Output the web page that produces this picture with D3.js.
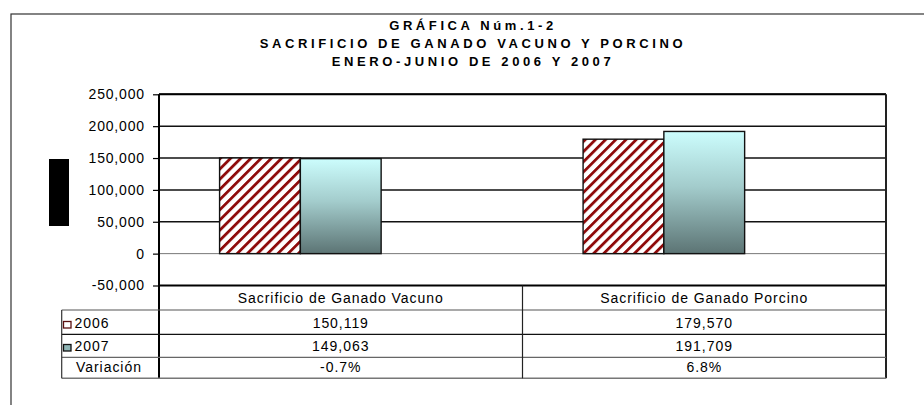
<!DOCTYPE html>
<html>
<head>
<meta charset="utf-8">
<script src="https://cdn.jsdelivr.net/npm/d3@7"></script>
<style>
  html, body { margin: 0; padding: 0; background: #fff; }
  svg { display: block; }
  text { font-family: "Liberation Sans", Arial, sans-serif; }
</style>
</head>
<body>
<svg id="chart" width="924" height="405"></svg>
<script>
// ---- data ----
const titleLines = ["GRÁFICA Núm.1-2", "SACRIFICIO DE GANADO VACUNO Y PORCINO", "ENERO-JUNIO DE 2006 Y 2007"];
const categories = ["Sacrificio de Ganado Vacuno", "Sacrificio de Ganado Porcino"];
const seriesNames = ["2006", "2007", "Variación"];
const values2006 = [150119, 179570];
const values2007 = [149063, 191709];
const variacion = [-0.007, 0.068];
const yTicks = [-50000, 0, 50000, 100000, 150000, 200000, 250000];

// ---- layout ----
const plot = { left: 159, right: 886, top: 94.3, bottom: 285.5 };
const tableRows = [285.5, 310, 334.3, 357.3, 378.3];
const tableLeft = 61.7;

const locale = d3.formatLocale({ decimal: ".", thousands: ",", grouping: [3], currency: ["", ""], minus: "-" });
const fmt = locale.format(",");
const pct = locale.format(".1%");

const svg = d3.select("#chart");
const defs = svg.append("defs");

// hatch pattern for 2006
const pat = defs.append("pattern")
  .attr("id", "hatch")
  .attr("patternUnits", "userSpaceOnUse")
  .attr("width", 7.2).attr("height", 7.2)
  .attr("patternTransform", "rotate(45)");
pat.append("rect").attr("width", 7.2).attr("height", 7.2).attr("fill", "#fff");
pat.append("rect").attr("x", 0).attr("y", 0).attr("width", 2.8).attr("height", 7.2).attr("fill", "#8e0a0a");

// gradient for 2007
const grad = defs.append("linearGradient")
  .attr("id", "grad07").attr("x1", 0).attr("y1", 0).attr("x2", 0).attr("y2", 1);
grad.append("stop").attr("offset", "0%").attr("stop-color", "#ccfdfd");
grad.append("stop").attr("offset", "45%").attr("stop-color", "#a3cccc");
grad.append("stop").attr("offset", "100%").attr("stop-color", "#5c7474");

// outer frame (extends beyond viewport on right/bottom)
svg.append("rect")
  .attr("x", 11).attr("y", 14).attr("width", 960).attr("height", 450)
  .attr("fill", "none").attr("stroke", "#333").attr("stroke-width", 1.2);

// title
const titleBase = [30, 48, 65.5];
titleLines.forEach((t, i) => {
  svg.append("text")
    .attr("x", 473).attr("y", titleBase[i])
    .attr("text-anchor", "middle")
    .attr("font-size", "13px").attr("font-weight", "bold")
    .attr("letter-spacing", "3.6px")
    .attr("fill", "#000")
    .text(t);
});

// scales
const y = d3.scaleLinear().domain([-50000, 250000]).range([plot.bottom, plot.top]);
const x = d3.scaleBand().domain(categories).range([plot.left, plot.right]).padding(0);
const xs = d3.scaleBand().domain(seriesNames).range([0, x.bandwidth()]).paddingInner(0).paddingOuter(0.75);

// gridlines
svg.append("g").selectAll("line").data(yTicks.filter(d => d !== -50000))
  .join("line")
  .attr("x1", plot.left).attr("x2", plot.right)
  .attr("y1", d => y(d)).attr("y2", d => y(d))
  .attr("stroke", d => d === 0 ? "#777" : "#111")
  .attr("stroke-width", d => d === 0 ? 1 : 1.5);

// y axis
const yAxis = d3.axisLeft(y).tickValues(yTicks).tickSize(6).tickPadding(9).tickFormat(fmt);
const ya = svg.append("g").attr("transform", `translate(${plot.left},0)`).call(yAxis);
ya.select(".domain").remove();
ya.selectAll(".tick line").attr("stroke", "#000").attr("stroke-width", 1.2);
ya.selectAll(".tick text")
  .attr("font-size", "14px").attr("letter-spacing", "0.8px")
  .attr("fill", "#000").attr("font-family", "'Liberation Sans', Arial, sans-serif")
  .attr("dx", "0.8px");

// bars
const bars = svg.append("g");
categories.forEach((c, i) => {
  const data = [
    { s: "2006", v: values2006[i], fill: "url(#hatch)" },
    { s: "2007", v: values2007[i], fill: "url(#grad07)" }
  ];
  bars.selectAll(null).data(data).join("rect")
    .attr("x", d => x(c) + xs(d.s))
    .attr("width", xs.bandwidth())
    .attr("y", d => y(Math.max(0, d.v)))
    .attr("height", d => Math.abs(y(d.v) - y(0)))
    .attr("fill", d => d.fill)
    .attr("stroke", "#111").attr("stroke-width", 1.4);
});

// plot frame
svg.append("line").attr("x1", plot.left).attr("x2", plot.right).attr("y1", plot.top).attr("y2", plot.top)
  .attr("stroke", "#000").attr("stroke-width", 2);
svg.append("line").attr("x1", plot.left).attr("x2", plot.right).attr("y1", plot.bottom).attr("y2", plot.bottom)
  .attr("stroke", "#000").attr("stroke-width", 2);
svg.append("line").attr("x1", plot.right).attr("x2", plot.right).attr("y1", plot.top).attr("y2", tableRows[4])
  .attr("stroke", "#222").attr("stroke-width", 2);
svg.append("line").attr("x1", plot.left).attr("x2", plot.left).attr("y1", plot.top).attr("y2", tableRows[4])
  .attr("stroke", "#000").attr("stroke-width", 2);

// axis title placeholder (black block)
svg.append("rect").attr("x", 49).attr("y", 159).attr("width", 20).attr("height", 67).attr("fill", "#000");

// data table
const tbl = svg.append("g");
const rowColors = ["#555", "#111", "#666", "#777"];
for (let r = 1; r < tableRows.length; r++) {
  tbl.append("line")
    .attr("x1", tableLeft).attr("x2", plot.right)
    .attr("y1", tableRows[r]).attr("y2", tableRows[r])
    .attr("stroke", rowColors[r - 1]).attr("stroke-width", r === 4 ? 1.5 : 1.2);
}
tbl.append("line").attr("x1", tableLeft).attr("x2", tableLeft).attr("y1", tableRows[1]).attr("y2", tableRows[4])
  .attr("stroke", "#333").attr("stroke-width", 1.2);
tbl.append("line").attr("x1", x(categories[1])).attr("x2", x(categories[1])).attr("y1", plot.bottom).attr("y2", tableRows[4])
  .attr("stroke", "#222").attr("stroke-width", 1.2);

const cellText = (xx, yy, t, anchor) => tbl.append("text")
  .attr("x", xx).attr("y", yy).attr("text-anchor", anchor || "middle")
  .attr("font-size", "14px").attr("letter-spacing", "0.95px").attr("fill", "#000").text(t);

const baselines = [302.5, 327.5, 350.5, 372];
categories.forEach((c, i) => {
  const cx = x(c) + x.bandwidth() / 2;
  cellText(cx, baselines[0], c);
  cellText(cx, baselines[1], fmt(values2006[i]));
  cellText(cx, baselines[2], fmt(values2007[i]));
  cellText(cx, baselines[3], pct(variacion[i]));
});

// legend keys in table
tbl.append("rect").attr("x", 63.5).attr("y", 321.5).attr("width", 7.5).attr("height", 6.5)
  .attr("fill", "#fff").attr("stroke", "#5a1010").attr("stroke-width", 1.3);
tbl.append("rect").attr("x", 63.5).attr("y", 344.5).attr("width", 7.5).attr("height", 6.5)
  .attr("fill", "#8fb5b5").attr("stroke", "#111").attr("stroke-width", 1.3);
cellText(74.5, baselines[1], seriesNames[0], "start");
cellText(74.5, baselines[2], seriesNames[1], "start");
cellText(76, baselines[3], seriesNames[2], "start");
</script>
</body>
</html>
